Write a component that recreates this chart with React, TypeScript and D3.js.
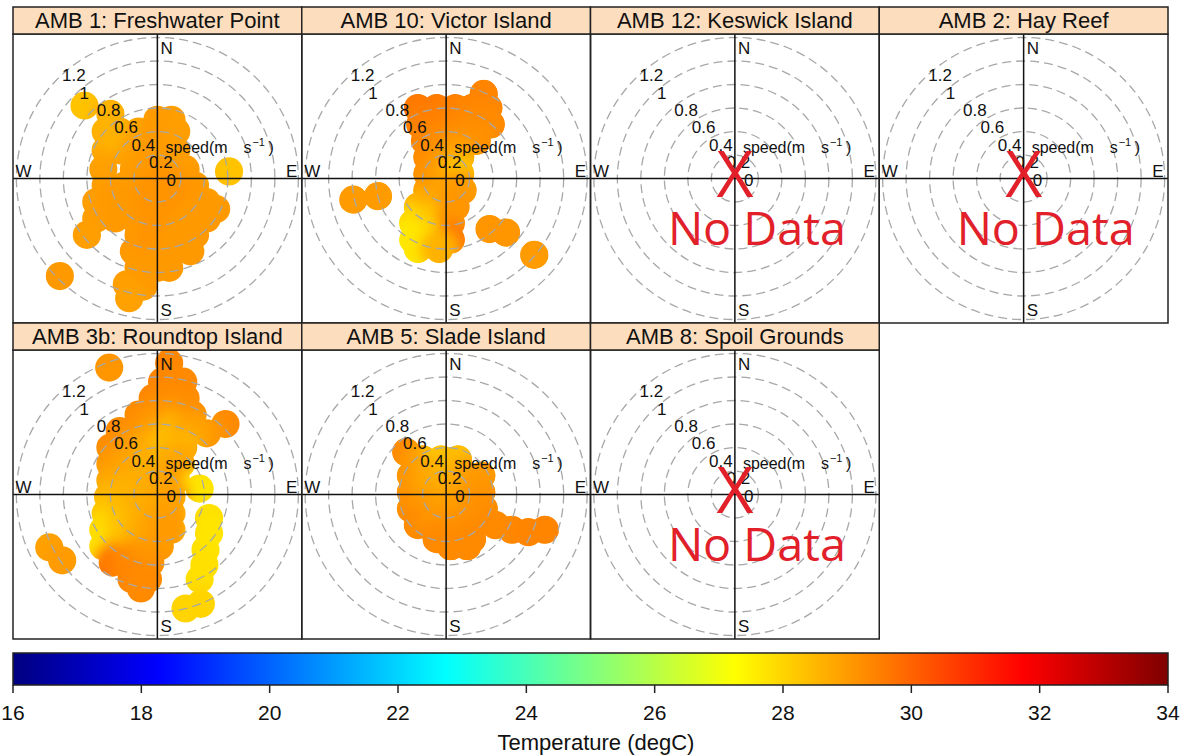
import React from "react";
import * as d3 from "d3";

// ---------- data ----------
const stationNames = [
  "AMB 1: Freshwater Point",
  "AMB 10: Victor Island",
  "AMB 12: Keswick Island",
  "AMB 2: Hay Reef",
  "AMB 3b: Roundtop Island",
  "AMB 5: Slade Island",
  "AMB 8: Spoil Grounds",
];

// smoothed surface cells: u (east, m/s), v (north, m/s), temperature (degC)
const amb1U = [-0.62, -0.4, 0.0, 0.12, -0.44, -0.32, -0.16, 0.0, 0.16, -0.44, -0.32, -0.16, 0.0, 0.16, -0.46, -0.2, -0.04, 0.12, 0.24, -0.44, -0.28, -0.12, 0.04, 0.2, 0.32, -0.52, -0.36, -0.2, -0.04, 0.12, 0.28, 0.42, 0.5, -0.52, -0.36, -0.2, -0.04, 0.12, 0.28, 0.42, -0.6, -0.16, 0.0, 0.16, 0.32, -0.2, -0.04, 0.12, 0.28, -0.16, 0.0, 0.1, -0.26, -0.12, -0.24, -0.83, 0.61];
const amb1V = [0.62, 0.55, 0.5, 0.5, 0.4, 0.4, 0.4, 0.4, 0.4, 0.24, 0.24, 0.24, 0.24, 0.24, 0.08, 0.08, 0.08, 0.08, 0.08, -0.06, -0.06, -0.06, -0.06, -0.06, -0.06, -0.2, -0.2, -0.2, -0.2, -0.2, -0.2, -0.2, -0.26, -0.34, -0.34, -0.34, -0.34, -0.34, -0.34, -0.34, -0.48, -0.48, -0.48, -0.48, -0.48, -0.62, -0.62, -0.62, -0.62, -0.76, -0.76, -0.76, -0.9, -0.92, -1.02, -0.83, 0.06];
const amb1T = [28.3, 28.6, 29.05, 28.95, 28.6, 28.6, 28.8, 29.05, 28.95, 28.7, 28.6, 28.9, 29.05, 28.95, 28.9, 28.95, 29.05, 29.05, 28.95, 28.95, 28.95, 29.05, 29.15, 29.15, 29.05, 28.95, 29.05, 29.05, 29.15, 29.15, 29.15, 29.05, 29.05, 28.95, 29.05, 29.05, 29.15, 29.15, 29.05, 29.05, 28.95, 29.05, 29.15, 29.05, 29.05, 29.05, 29.15, 29.05, 29.05, 29.05, 29.05, 29.05, 28.95, 29.05, 28.9, 29.05, 28.3];

const amb10U = [0.32, -0.24, -0.08, 0.08, 0.22, 0.36, -0.22, -0.06, 0.1, 0.26, 0.38, -0.18, -0.02, 0.14, 0.26, -0.16, 0.0, 0.12, -0.16, 0.0, 0.12, -0.16, 0.0, 0.14, -0.24, -0.08, 0.08, -0.28, -0.12, 0.04, -0.28, -0.12, 0.04, -0.24, -0.06, -0.79, -0.58, 0.37, 0.51, 0.75];
const amb10V = [0.72, 0.6, 0.6, 0.6, 0.6, 0.6, 0.46, 0.46, 0.46, 0.46, 0.46, 0.32, 0.32, 0.32, 0.32, 0.18, 0.18, 0.18, 0.04, 0.04, 0.04, -0.1, -0.1, -0.1, -0.24, -0.24, -0.24, -0.38, -0.38, -0.38, -0.52, -0.52, -0.52, -0.6, -0.6, -0.18, -0.15, -0.43, -0.46, -0.65];
const amb10T = [29.4, 29.6, 29.6, 29.5, 29.4, 29.4, 29.5, 29.5, 29.4, 29.3, 29.3, 29.4, 29.3, 29.2, 29.2, 29.3, 29.1, 28.9, 29.2, 28.9, 28.3, 29.1, 28.9, 29.0, 28.6, 28.8, 29.1, 27.9, 28.2, 29.1, 27.6, 27.9, 29.6, 27.7, 28.6, 29.0, 29.0, 29.1, 29.1, 29.0];

const amb3bU = [0.1, -0.41, 0.04, 0.22, -0.04, 0.1, 0.24, -0.16, -0.02, 0.14, 0.3, 0.58, 0.42, -0.32, -0.18, -0.02, 0.14, 0.3, -0.4, -0.24, -0.08, 0.08, 0.22, -0.4, -0.24, -0.08, 0.08, 0.2, -0.4, -0.24, -0.08, 0.08, 0.16, 0.36, -0.42, -0.26, -0.1, 0.04, 0.12, -0.44, -0.28, -0.12, 0.02, 0.12, -0.46, -0.3, -0.14, 0.0, 0.12, -0.46, -0.3, -0.14, 0.02, -0.38, -0.22, -0.06, -0.22, -0.08, -0.14, 0.44, 0.44, 0.41, 0.4, 0.36, 0.24, 0.37, -0.92, -0.81];
const amb3bV = [1.12, 1.08, 0.96, 0.96, 0.82, 0.82, 0.82, 0.68, 0.68, 0.68, 0.68, 0.6, 0.52, 0.54, 0.54, 0.54, 0.54, 0.54, 0.4, 0.4, 0.4, 0.4, 0.4, 0.26, 0.26, 0.26, 0.26, 0.26, 0.12, 0.12, 0.12, 0.12, 0.12, 0.05, -0.02, -0.02, -0.02, -0.02, -0.02, -0.16, -0.16, -0.16, -0.16, -0.16, -0.3, -0.3, -0.3, -0.3, -0.3, -0.44, -0.44, -0.44, -0.44, -0.58, -0.58, -0.58, -0.72, -0.72, -0.8, -0.2, -0.33, -0.47, -0.6, -0.72, -0.97, -0.93, -0.45, -0.56];
const amb3bT = [29.4, 29.1, 29.4, 29.3, 29.4, 29.3, 29.3, 29.3, 29.2, 29.1, 29.2, 29.3, 29.1, 29.3, 29.2, 29.0, 28.6, 28.9, 29.3, 29.1, 28.8, 28.4, 28.6, 29.1, 28.9, 28.7, 28.6, 28.8, 28.9, 28.8, 28.7, 28.8, 28.9, 27.7, 28.6, 28.6, 28.7, 28.8, 28.9, 28.3, 28.5, 28.7, 28.8, 28.9, 27.9, 28.3, 28.7, 28.9, 29.0, 27.8, 28.4, 28.8, 29.0, 29.6, 29.3, 29.1, 29.4, 29.3, 29.3, 27.8, 27.7, 27.7, 27.8, 27.8, 28.0, 28.0, 28.9, 29.0];

const amb5U = [-0.34, -0.2, -0.04, 0.1, -0.3, -0.14, 0.02, 0.18, 0.3, -0.3, -0.14, 0.02, 0.18, 0.3, -0.3, -0.14, 0.02, 0.18, 0.32, -0.24, -0.08, 0.08, 0.24, -0.08, 0.08, 0.22, 0.04, 0.18, 0.42, 0.56, 0.7, 0.84];
const amb5V = [0.36, 0.3, 0.3, 0.3, 0.16, 0.16, 0.16, 0.16, 0.16, 0.02, 0.02, 0.02, 0.02, 0.02, -0.12, -0.12, -0.12, -0.12, -0.12, -0.26, -0.26, -0.26, -0.26, -0.38, -0.38, -0.38, -0.44, -0.44, -0.26, -0.3, -0.32, -0.3];
const amb5T = [29.3, 28.9, 28.2, 28.4, 29.1, 28.8, 28.5, 28.8, 29.0, 29.1, 28.8, 28.7, 28.9, 29.1, 29.2, 29.0, 28.9, 29.0, 29.2, 29.3, 29.1, 29.1, 29.2, 29.3, 29.2, 29.3, 29.3, 29.3, 29.3, 29.3, 29.4, 29.4];

const speedTicks = [0, 0.2, 0.4, 0.6, 0.8, 1, 1.2];
const tempTicks = [16, 18, 20, 22, 24, 26, 28, 30, 32, 34];
const jetColors = ["#00007F", "#0000FF", "#007FFF", "#00FFFF", "#7FFF7F", "#FFFF00", "#FF7F00", "#FF0000", "#7F0000"];

const stationSeries = [
  { u: amb1U, v: amb1V, t: amb1T },
  { u: amb10U, v: amb10V, t: amb10T },
  null,
  null,
  { u: amb3bU, v: amb3bV, t: amb3bT },
  { u: amb5U, v: amb5V, t: amb5T },
  null,
];

const FONT = "'Liberation Sans', Arial, Helvetica, sans-serif";

export default function App() {
  const W = 1189;
  const H = 755;
  const x0 = 13;
  const panelW = 288.75;
  const stripH = 27;
  const plotH = 289;
  const top0 = 7;
  const rMax = 141;
  const blobSpeed = 0.12;

  const xs = d3.scaleLinear().domain([-1.2, 1.2]).range([-rMax, rMax]);
  const ys = d3.scaleLinear().domain([-1.2, 1.2]).range([rMax, -rMax]);
  const rs = d3.scaleLinear().domain([0, 1.2]).range([0, rMax]);
  const tempDomain = jetColors.map((_, i) => 16 + (i * 18) / 8);
  const color = d3.scaleLinear().domain(tempDomain).range(jetColors).interpolate(d3.interpolateRgb);
  const barX = d3.scaleLinear().domain([16, 34]).range([13, 1168]);
  const blobR = rs(blobSpeed);

  const barTop = 653;
  const barBot = 685;

  return (
    <svg width={W} height={H} style={{ position: "absolute", left: 0, top: 0, display: "block", background: "#fff" }} fontFamily={FONT}>
      <defs>
        <filter id="soft" x="-50%" y="-50%" width="200%" height="200%">
          <feGaussianBlur stdDeviation="6" />
        </filter>
        <linearGradient id="jet" x1="0" x2="1" y1="0" y2="0">
          {tempDomain.map((t, i) => (
            <stop key={i} offset={(t - 16) / 18} stopColor={jetColors[i]} />
          ))}
        </linearGradient>
        {stationSeries.map((s, i) =>
          s ? (
            <clipPath id={`blob-${i}`} key={i}>
              {s.u.map((u, j) => (
                <circle key={j} cx={xs(u)} cy={ys(s.v[j])} r={blobR} />
              ))}
            </clipPath>
          ) : null
        )}
        {stationNames.map((_, i) => (
          <clipPath id={`panel-${i}`} key={i}>
            <rect x={-panelW / 2} y={-plotH / 2} width={panelW} height={plotH} />
          </clipPath>
        ))}
      </defs>
      <rect x={0} y={0} width={W} height={H} fill="#fff" />

      {stationNames.map((name, i) => {
        const col = i % 4;
        const row = Math.floor(i / 4);
        const px = x0 + col * panelW;
        const sy = top0 + row * (stripH + plotH);
        const py = sy + stripH;
        const cx = px + panelW / 2;
        const cy = py + plotH / 2;
        const s = stationSeries[i];
        return (
          <g key={i}>
            <g transform={`translate(${cx},${cy})`}>
              <g clipPath={`url(#panel-${i})`}>
                {s && (
                  <g clipPath={`url(#blob-${i})`}>
                    {s.u.map((u, j) => (
                      <circle key={"b" + j} cx={xs(u)} cy={ys(s.v[j])} r={blobR} fill={color(s.t[j])} />
                    ))}
                    <g filter="url(#soft)">
                      {s.u.map((u, j) => (
                        <circle key={"f" + j} cx={xs(u)} cy={ys(s.v[j])} r={blobR * 1.4} fill={color(s.t[j])} />
                      ))}
                    </g>
                  </g>
                )}
                {speedTicks.slice(1).map((sp) => (
                  <circle key={sp} cx={0} cy={0} r={rs(sp)} fill="none" stroke="#a8a8a8" strokeWidth={1.3} strokeDasharray="9 5" />
                ))}
              </g>
              <line x1={-panelW / 2} x2={panelW / 2} y1={0} y2={0} stroke="#111" strokeWidth={1.5} />
              <line x1={0} x2={0} y1={-plotH / 2} y2={plotH / 2} stroke="#111" strokeWidth={1.5} />
              <text x={3} y={-125} fontSize={17} fill="#111">N</text>
              <text x={3} y={137} fontSize={17} fill="#111">S</text>
              <text x={-142} y={-2} fontSize={17} fill="#111">W</text>
              <text x={140} y={-2} fontSize={17} fill="#111" textAnchor="end">E</text>
              {speedTicks.map((sp) => (
                <text key={sp} x={9 - rs(sp) * 0.74} y={7 - rs(sp) * 0.74} fontSize={17} fill="#111">
                  {String(sp)}
                </text>
              ))}
              <text y={-26} fontSize={16} fill="#111">
                <tspan x={8}>speed(m</tspan>
                <tspan x={86}>s</tspan>
                <tspan x={95} dy={-7} fontSize={11}>−1</tspan>
                <tspan x={111} dy={7}>)</tspan>
              </text>
              {!s && (
                <g fill="#E2202A" fontFamily="'Open Sans', 'Noto Sans', sans-serif">
                  <text x={0} y={18} fontSize={64} textAnchor="middle">X</text>
                  <text x={22} y={66} fontSize={46} textAnchor="middle" textLength={178} lengthAdjust="spacingAndGlyphs">No Data</text>
                </g>
              )}
            </g>
            <rect x={px} y={py} width={panelW} height={plotH} fill="none" stroke="#222" strokeWidth={1.5} />
            <rect x={px} y={sy} width={panelW} height={stripH} fill="#FCDDBD" stroke="#222" strokeWidth={1.5} />
            <text x={cx} y={sy + 21} fontSize={22} textAnchor="middle" fill="#111">
              {name}
            </text>
          </g>
        );
      })}

      {/* colour key */}
      <rect x={barX(16)} y={barTop} width={barX(34) - barX(16)} height={barBot - barTop} fill="url(#jet)" stroke="#222" strokeWidth={1.5} />
      {tempTicks.map((t) => (
        <g key={t}>
          <line x1={barX(t)} x2={barX(t)} y1={barBot} y2={barBot + 8} stroke="#222" strokeWidth={1.5} />
          <text x={barX(t)} y={720} fontSize={21} textAnchor="middle" fill="#111">
            {t}
          </text>
        </g>
      ))}
      <text x={596} y={750} fontSize={22} textAnchor="middle" fill="#111">
        Temperature (degC)
      </text>
    </svg>
  );
}
